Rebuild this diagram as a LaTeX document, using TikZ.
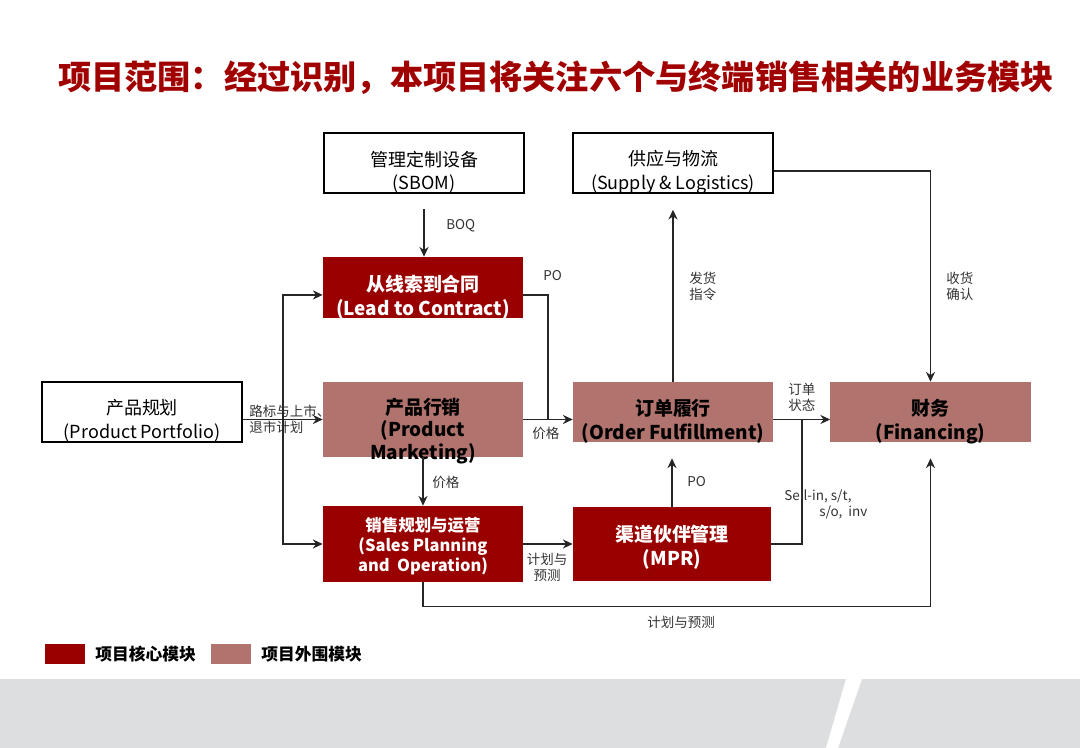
\documentclass[tikz,border=0pt]{standalone}
\usepackage{fontspec}
\setmainfont{Noto Sans CJK SC}
\usepackage{xcolor}
\usetikzlibrary{arrows.meta,positioning,calc}

\definecolor{corered}{RGB}{153,0,0}
\definecolor{outerpink}{RGB}{176,115,110}
\definecolor{titlered}{RGB}{160,0,0}
\definecolor{bandgray}{RGB}{220,222,224}

\tikzset{
  modbox/.style={inner sep=0pt, minimum width=5cm, minimum height=1.5cm},
  coremod/.style={modbox, fill=corered},
  outermod/.style={modbox, fill=outerpink},
  extmod/.style={modbox, draw=black, line width=1.8pt},
  modtext/.style={inner sep=0pt, align=center, font=\fontsize{13.5}{17}\selectfont\bfseries},
  coretext/.style={modtext, text=white},
  exttext/.style={inner sep=0pt, align=center, font=\fontsize{12.8}{17}\selectfont},
  flow/.style={draw=black!85, line width=0.9pt, -{Stealth[length=7pt,width=6.5pt]}},
  flowline/.style={draw=black!85, line width=0.9pt},
  lbl/.style={inner sep=0pt, font=\fontsize{9.6}{11.4}\selectfont, text=black!80},
}

\begin{document}
\begin{tikzpicture}[x=0.025cm,y=-0.025cm]
        \useasboundingbox (0,0) rectangle (1080,748);
        \fill[bandgray] (0,679) rectangle (1080,748);
        \fill[white] (846,679) -- (862,679) -- (838,748) -- (826,748) -- cycle;
        \node[font=\fontsize{23.6}{28}\selectfont\bfseries, text=titlered] (title) at (556,78) {项目范围：经过识别，本项目将关注六个与终端销售相关的业务模块};

        \node[extmod] (sbom) at (424,163) {};
        \node[exttext] (sbom-text) at ([yshift=-6.5pt]sbom.center) {管理定制设备\\(SBOM)};
        \node[extmod] (supply) at (673,163) {};
        \node[exttext] (supply-text) at ([yshift=-6.5pt]supply.center) {供应与物流\\(Supply \& Logistics)};
        \node[coremod, minimum height=1.525cm] (l2c) at (423,287.5) {};
        \node[coretext] (l2c-text) at ([yshift=-6.8pt]l2c.center) {从线索到合同\\(Lead to Contract)};
        \node[extmod] (portfolio) at (142,412) {};
        \node[exttext] (portfolio-text) at ([yshift=-6.5pt]portfolio.center) {产品规划\\(Product Portfolio)};
        \node[outermod, minimum height=1.875cm] (mkt) at (423,419.5) {};
        \node[modtext, font=\fontsize{13.5}{16}\selectfont\bfseries] (mkt-text) at ([yshift=-8pt]mkt.center) {产品行销\\(Product\\Marketing)};
        \node[outermod] (order) at (673,412) {};
        \node[modtext] (order-text) at ([yshift=-6.8pt]order.center) {订单履行\\(Order Fulfillment)};
        \node[outermod] (fin) at (930.5,412) {};
        \node[modtext] (fin-text) at ([yshift=-6.8pt]fin.center) {财务\\(Financing)};
        \node[coremod, minimum height=1.9cm] (sop) at (423,544) {};
        \node[coretext, font=\fontsize{11.7}{13.9}\selectfont\bfseries] (sop-text) at ([yshift=-1.5pt]sop.center) {销售规划与运营\\(Sales Planning\\and~~Operation)};
        \node[coremod, minimum width=4.95cm, minimum height=1.85cm] (mpr) at (672,544) {};
        \node[coretext] (mpr-text) at ([yshift=-2pt]mpr.center) {渠道伙伴管理\\(MPR)};

        \coordinate (trunk) at (283,419.5);
        \coordinate (pojoin) at (548,419.5);
        \coordinate (statusjoin) at (802,419.5);

        \draw[flow] (portfolio.east |- mkt.west) -- (mkt.west);
        \draw[flow] (trunk) |- ([yshift=-5.3pt]l2c.west);
        \draw[flow] (trunk) |- (sop.west);
        \draw[flow, shorten <=10.7pt] (sbom.south) -- (sbom.south |- l2c.north);
        \draw[flowline] ([yshift=-5.3pt]l2c.east) -| (pojoin);
        \draw[flow] (mkt.east) -- (mkt.east -| order.west);
        \draw[flow] (mkt.south) -- (sop.north);
        \draw[flow] (sop.east) -- (mpr.west);
        \draw[flow, shorten >=11.4pt] (mpr.north) -- (mpr.north |- order.south);
        \draw[flow, shorten >=11pt] (order.north) -- (order.north |- supply.south);
        \draw[flow] (mkt.east -| order.east) -- (mkt.east -| fin.west);
        \draw[flowline] (mpr.east) -| (statusjoin);
        \draw[flow] ([yshift=-5.7pt]supply.east) -| (fin.north);
        \draw[flow, shorten >=11.4pt] (sop.south) -- ++(0,24) -| (fin.south);

        \node[lbl, anchor=west] (boq) at (446,226) {BOQ};
        \node[lbl, anchor=west] (po1) at (543,276) {PO};
        \node[lbl, anchor=west, align=left] (roadmap) at (249,419) {路标与上市、\\退市计划};
        \node[lbl, anchor=west] (price1) at (532,433) {价格};
        \node[lbl, anchor=west] (price2) at (432,482) {价格};
        \node[lbl, align=center] (plan1) at (547,567) {计划与\\预测};
        \node[lbl, anchor=west] (po2) at (687,482) {PO};
        \node[lbl, anchor=west, align=left] (ship) at (689,286) {发货\\指令};
        \node[lbl, anchor=west, align=left] (status) at (788,397) {订单\\状态};
        \node[lbl, anchor=west, align=left] (receipt) at (946,286) {收货\\确认};
        \node[lbl, anchor=west, align=left] (sellin) at (784,504) {Sell-in, s/t,\\\hspace*{25pt}s/o,~~inv};
        \node[lbl] (plan2) at (681,622) {计划与预测};

        \foreach \c/\t/\x in {corered/项目核心模块/65, outerpink/项目外围模块/231}{
        \node[fill=\c, minimum width=1cm, minimum height=0.5cm] (leg-\c) at (\x,654) {};
        \node[right=7pt of leg-\c, inner sep=0pt, font=\fontsize{11.9}{14}\selectfont\bfseries] (legtext-\c) {\t};
        }
\end{tikzpicture}
\end{document}
